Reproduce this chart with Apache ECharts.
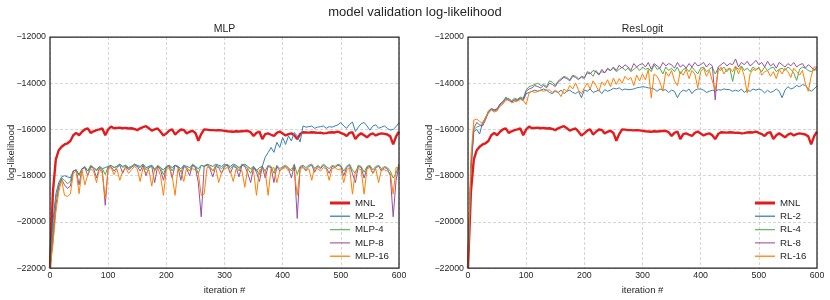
<!DOCTYPE html>
<html>
<head>
<meta charset="utf-8">
<script src="https://cdn.jsdelivr.net/npm/echarts@6/dist/echarts.min.js"></script>
<style>
html,body{margin:0;padding:0;background:#fff;}
#chart{width:830px;height:300px;}
</style>
</head>
<body>
<div id="chart"></div>
<script>
// iteration numbers (x positions of the recorded points, every 5 iterations)
const iterations = Array.from({length: 121}, (_, i) => i * 5);

const xTicks = [0, 100, 200, 300, 400, 500, 600];
const yTicks = [-22000, -20000, -18000, -16000, -14000, -12000];

const mnl = [
-22000,-18700,-17300,-16900,-16750,-16650,-16600,-16500,-16250,-16150,
-16250,-16100,-16000,-15950,-16150,-16080,-16030,-16000,-15960,-16250,
-16000,-15880,-15950,-15930,-15920,-15950,-15930,-15960,-15950,-15980,
-16030,-15950,-15900,-15860,-15950,-16050,-16000,-15960,-16100,-16260,
-16170,-16050,-15990,-16220,-16100,-16000,-16020,-16170,-16100,-16060,
-16150,-16490,-16200,-16000,-16010,-16030,-16030,-16040,-16030,-16040,
-16060,-16080,-16090,-16100,-16080,-16090,-16080,-16070,-16060,-16120,
-16280,-16150,-16090,-16420,-16200,-16170,-16230,-16280,-16150,-16090,
-16180,-16260,-16200,-16170,-16250,-16420,-16200,-16120,-16130,-16140,
-16120,-16130,-16150,-16140,-16170,-16160,-16130,-16120,-16130,-16090,
-16150,-16200,-16280,-16150,-16120,-16420,-16250,-16170,-16250,-16340,
-16220,-16170,-16260,-16200,-16170,-16190,-16220,-16300,-16650,-16300,
-16090];

const mlp2 = [
-22000,-20000,-18800,-18300,-18050,-18000,-18050,-18100,-17800,-17750,
-17950,-17700,-17650,-17800,-17600,-17650,-17750,-17600,-17700,-17650,
-17600,-17550,-17650,-17600,-17500,-17600,-17550,-17650,-17600,-17500,
-17550,-17600,-17500,-17650,-17600,-17550,-17700,-17600,-17650,-17750,
-17600,-17550,-17650,-17550,-17600,-17700,-17550,-17600,-17650,-17550,
-17600,-17700,-17550,-17600,-17500,-17550,-17600,-17500,-17550,-17600,
-17500,-17550,-17600,-17500,-17550,-17650,-17550,-17500,-17600,-17700,
-17600,-17800,-17650,-17600,-17200,-17000,-16780,-16990,-16560,-16780,
-16350,-16650,-16280,-16500,-16130,-16280,-16540,-15850,-15900,-15880,
-15850,-15950,-15900,-15880,-15850,-15950,-15880,-15900,-15850,-15800,
-15700,-15850,-15950,-15780,-15680,-16090,-15900,-15750,-15700,-15850,
-16030,-15850,-15800,-15950,-15900,-15850,-15950,-16030,-16000,-15880,
-15700];

const mlp4 = [
-22000,-20400,-19000,-18400,-18100,-18200,-18350,-18250,-17800,-17750,
-18000,-17700,-17600,-17800,-17550,-17650,-17800,-17600,-17700,-17950,
-17600,-17550,-17650,-17600,-17500,-17650,-17550,-17700,-17600,-17500,
-17600,-17650,-17500,-17750,-17600,-17550,-17800,-17550,-17650,-17950,
-17600,-17550,-17800,-17550,-17600,-17850,-17550,-17650,-17800,-17500,
-17600,-17900,-17550,-17600,-17500,-17650,-17800,-17550,-17600,-17700,
-17550,-17500,-17700,-17550,-17600,-17800,-17500,-17550,-17700,-17900,
-17600,-17750,-17950,-17600,-17800,-17550,-17600,-17900,-17550,-17700,
-17600,-17550,-17650,-17800,-17500,-17950,-17600,-17550,-17650,-17550,
-17500,-17700,-17550,-17650,-17500,-17600,-17700,-17550,-17600,-17500,
-17550,-17800,-17600,-17500,-17750,-17900,-17550,-17600,-17850,-17600,
-17550,-17750,-17600,-17550,-17700,-17600,-17650,-17800,-18100,-17900,
-17500];

const mlp8 = [
-22000,-20800,-19300,-18500,-18150,-18400,-18550,-18450,-17800,-17750,
-18400,-17700,-17650,-18000,-17600,-17700,-18100,-17650,-17800,-19280,
-17650,-17600,-17800,-17650,-17550,-17900,-17600,-17750,-17650,-17550,
-17600,-17800,-17550,-18000,-17650,-17600,-18300,-17600,-17750,-18200,
-17650,-17600,-18100,-17550,-17650,-18200,-17600,-17700,-18000,-17550,
-17650,-18300,-19780,-17600,-17550,-17700,-18050,-17600,-17650,-17900,
-17600,-17550,-17900,-17600,-17650,-18050,-17550,-17600,-17900,-18300,
-17650,-17850,-18250,-17600,-18100,-17600,-17650,-18300,-17600,-17800,
-17650,-17600,-17700,-18100,-17550,-19850,-17650,-17600,-17750,-17600,
-17550,-17850,-17600,-17700,-17550,-17650,-17900,-17600,-17650,-17550,
-17600,-18000,-17650,-17550,-17900,-18300,-17600,-17650,-18100,-17650,
-17600,-17900,-17650,-17600,-17800,-17650,-17700,-18000,-19780,-18200,
-17550];

const mlp16 = [
-22000,-21000,-19600,-18700,-18200,-18850,-18900,-18800,-17900,-17800,
-18780,-17750,-18400,-17950,-17700,-17800,-18300,-17700,-17900,-19000,
-17700,-17650,-17950,-17700,-18200,-17800,-17650,-17900,-17750,-17600,
-17700,-18250,-17650,-17900,-17750,-18450,-17700,-17650,-18000,-18850,
-17750,-17650,-18000,-18850,-17700,-17800,-18250,-17650,-17800,-17700,
-17750,-17900,-18850,-18800,-17650,-17600,-17800,-17650,-18300,-17850,
-17700,-17650,-17800,-18250,-17700,-17650,-17800,-18500,-17650,-17700,
-17800,-18850,-17750,-17700,-17800,-18850,-17700,-17650,-18300,-17800,
-17700,-17650,-17800,-17700,-17800,-18850,-17700,-17650,-17800,-17700,
-18200,-17650,-17700,-17800,-17650,-17700,-18200,-17700,-17650,-17750,
-17700,-18300,-17750,-17650,-18800,-17800,-17700,-17750,-18800,-17700,
-17650,-17900,-17700,-18300,-17700,-17750,-17800,-17900,-18800,-17650,
-17650];

const rl2 = [
-22000,-17800,-16100,-16000,-16200,-15700,-15500,-15300,-15150,-15200,
-15150,-14950,-14850,-14700,-14650,-14800,-14750,-14700,-14650,-14750,
-14450,-14400,-14350,-14300,-14350,-14300,-14250,-14300,-14400,-14450,
-14350,-14400,-14300,-14450,-14350,-14300,-14400,-14450,-14350,-14630,
-14300,-14350,-14250,-14400,-14350,-14300,-14450,-14280,-14350,-14300,
-14220,-14250,-14200,-14300,-14250,-14280,-14270,-14250,-14200,-14180,
-14150,-14170,-14200,-14220,-14250,-14350,-14250,-14300,-14280,-14400,
-14300,-14350,-14630,-14400,-14300,-14350,-14250,-14450,-14300,-14250,
-14250,-14300,-14400,-14350,-14300,-14350,-14280,-14300,-14250,-14270,
-14280,-14350,-14300,-14350,-14250,-14400,-14300,-14350,-14250,-14300,
-14250,-14300,-14420,-14300,-14400,-14350,-14250,-14350,-14630,-14300,
-14150,-14250,-14200,-14100,-14150,-14060,-14100,-14250,-14350,-14250,
-14120];

const rl4 = [
-22000,-17600,-16000,-15900,-15850,-15800,-15500,-15200,-15100,-15150,
-15150,-14900,-14800,-14600,-14700,-14750,-14650,-14700,-14600,-14650,
-14300,-14150,-14100,-14050,-14000,-14100,-14050,-14150,-13900,-13950,
-14100,-13900,-13800,-13700,-13750,-13850,-13650,-13700,-13800,-13750,
-13800,-13500,-13550,-13700,-13450,-13600,-13500,-13550,-13400,-13450,
-13350,-13500,-13400,-13300,-13450,-13350,-13500,-13400,-13300,-13450,
-13300,-13400,-13350,-13500,-13200,-13400,-13350,-13600,-13300,-13450,
-13350,-13500,-13300,-13600,-13400,-13350,-13500,-13300,-13450,-13600,
-13350,-13300,-13500,-13400,-13300,-13600,-13350,-13450,-13300,-13500,
-13350,-13920,-13300,-13400,-13250,-13450,-13350,-13500,-13300,-13400,
-13350,-13500,-13300,-13450,-13350,-13300,-13500,-13400,-13350,-13450,
-13300,-13400,-13550,-13880,-13400,-13300,-13350,-13450,-13500,-13400,
-13450];

const rl8 = [
-22000,-17700,-15950,-15700,-15800,-15850,-15600,-15250,-15100,-15150,
-15100,-14900,-14800,-14650,-14750,-14800,-14700,-14750,-14650,-14700,
-14350,-14250,-14200,-14100,-14150,-14200,-14100,-14200,-14000,-14050,
-14150,-13950,-13850,-13750,-13800,-13900,-13700,-13750,-13850,-13700,
-13750,-13550,-13600,-13450,-13500,-13650,-13400,-13550,-13350,-13450,
-13300,-13450,-13220,-13350,-13200,-13300,-13450,-13150,-13300,-13200,
-13150,-13300,-13100,-13400,-13150,-13250,-13350,-13100,-13250,-13150,
-13200,-13350,-13100,-13300,-13200,-13350,-13150,-13300,-13100,-13250,
-13200,-13100,-13300,-13150,-13250,-14720,-13300,-13200,-13100,-13250,
-13150,-13200,-12950,-13300,-13100,-13200,-13050,-13250,-13150,-13010,
-13200,-13100,-13300,-13050,-13250,-13150,-13350,-13100,-13200,-13300,
-13150,-13250,-13100,-13300,-13200,-13150,-13350,-13200,-13300,-13450,
-13300];

const rl16 = [
-22000,-17200,-15600,-15550,-15650,-15750,-15500,-15250,-15150,-15250,
-15200,-15000,-14900,-14750,-14700,-14850,-14800,-14780,-14700,-14750,
-14920,-14420,-14350,-14400,-14350,-14300,-14350,-14300,-14290,-14400,
-14300,-14400,-14580,-14250,-14350,-14100,-14250,-13990,-14300,-14450,
-14200,-14000,-14250,-13900,-14100,-14350,-13950,-14100,-13850,-14150,
-13780,-14050,-13800,-14000,-13700,-13850,-13750,-14100,-13650,-13900,
-13600,-13850,-13400,-14630,-13600,-13700,-13950,-14350,-13500,-13700,
-13450,-13900,-14100,-13500,-13650,-13400,-13800,-13450,-13600,-14200,
-13500,-13350,-13700,-13450,-13900,-14300,-13500,-13300,-13600,-13400,
-13350,-13500,-13250,-13600,-13300,-13700,-14420,-13600,-13400,-13450,
-13300,-13650,-13500,-13450,-13700,-13500,-13800,-13400,-13600,-13350,
-13500,-13750,-13350,-13500,-13650,-13450,-14000,-14350,-13700,-13300,
-13300];

const leftNames = ['MNL', 'MLP-2', 'MLP-4', 'MLP-8', 'MLP-16'];
const rightNames = ['MNL', 'RL-2', 'RL-4', 'RL-8', 'RL-16'];
const leftValues = [mnl, mlp2, mlp4, mlp8, mlp16];
const rightValues = [mnl, rl2, rl4, rl8, rl16];
const colors = ['#e41a1c', '#377eb8', '#4daf4a', '#984ea3', '#ff7f00'];

const FONT = 'Liberation Sans, Arial, sans-serif';
const TXT = '#262626';
const THICK_ICON = 'rect';
const THIN_ICON = 'path://M0,0L20,0L20,0Z M0,0.8H20V2.2H0Z M0,3L20,3L20,3Z';

function pairs(vals) { return vals.map((v, i) => [iterations[i], v]); }
function fmtY(v) { return String(v).replace('-', '\u2212'); }

function xAxis(gi) {
  return {
    type: 'value', gridIndex: gi, min: 0, max: 600, interval: 100,
    name: 'iteration #', nameLocation: 'middle', nameGap: 13,
    nameTextStyle: {fontFamily: FONT, fontSize: 9.5, color: TXT},
    axisLine: {show: false}, axisTick: {show: false},
    axisLabel: {fontFamily: FONT, fontSize: 8.8, color: TXT, margin: 3},
    splitLine: {show: true, lineStyle: {color: '#cccccc', width: 0.8, type: [3, 2]}}
  };
}
function yAxis(gi) {
  return {
    type: 'value', gridIndex: gi, min: -22000, max: -12000, interval: 2000,
    name: 'log-likelihood', nameLocation: 'middle', nameGap: 34, nameMoveOverlap: false,
    nameTextStyle: {fontFamily: FONT, fontSize: 9.5, color: TXT},
    axisLine: {show: false}, axisTick: {show: false},
    axisLabel: {fontFamily: FONT, fontSize: 8.8, color: TXT, margin: 4, formatter: fmtY},
    splitLine: {show: true, lineStyle: {color: '#cccccc', width: 0.8, type: [3, 2]}}
  };
}

const series = [];
leftNames.forEach((n, k) => series.push({
  name: n, type: 'line', xAxisIndex: 0, yAxisIndex: 0, data: pairs(leftValues[k]),
  symbol: 'none', color: colors[k], lineStyle: {width: k === 0 ? 2.4 : 1, color: colors[k]},
  z: 2 + k, animation: false
}));
rightNames.forEach((n, k) => series.push({
  name: n, type: 'line', xAxisIndex: 1, yAxisIndex: 1, data: pairs(rightValues[k]),
  symbol: 'none', color: colors[k], lineStyle: {width: k === 0 ? 2.4 : 1, color: colors[k]},
  z: 2 + k, animation: false
}));

function legend(names, left) {
  return {
    orient: 'vertical', left: left, top: 198, padding: 0,
    itemWidth: 20, itemHeight: 3, itemGap: 3.3,
    textStyle: {fontFamily: FONT, fontSize: 9.7, color: TXT},
    data: names.map((n, k) => ({name: n, icon: k === 0 ? THICK_ICON : THIN_ICON,
      itemStyle: {color: colors[k], opacity: k === 0 ? 1 : 0.85}})),
    selectedMode: false
  };
}

const chart = echarts.init(document.getElementById('chart'), null, {renderer: 'canvas'});
chart.setOption({
  backgroundColor: '#ffffff',
  animation: false,
  grid: [
    {left: 50, top: 37, width: 349, height: 233, show: true, borderColor: '#262626', borderWidth: 1.25, backgroundColor: 'transparent', z: 10},
    {left: 468, top: 37, width: 349, height: 233, show: true, borderColor: '#262626', borderWidth: 1.25, backgroundColor: 'transparent', z: 10}
  ],
  xAxis: [xAxis(0), xAxis(1)],
  yAxis: [yAxis(0), yAxis(1)],
  legend: [legend(leftNames, 330), legend(rightNames, 755)],
  graphic: [
    {type: 'text', x: 415, y: 12, style: {text: 'model validation log-likelihood', fontFamily: FONT, fontSize: 13, fill: TXT, align: 'center', verticalAlign: 'middle'}},
    {type: 'text', x: 224.5, y: 29, style: {text: 'MLP', fontFamily: FONT, fontSize: 10.5, fill: TXT, align: 'center', verticalAlign: 'middle'}},
    {type: 'text', x: 642.5, y: 29, style: {text: 'ResLogit', fontFamily: FONT, fontSize: 10.5, fill: TXT, align: 'center', verticalAlign: 'middle'}}
  ],
  series: series
});
</script>
</body>
</html>
